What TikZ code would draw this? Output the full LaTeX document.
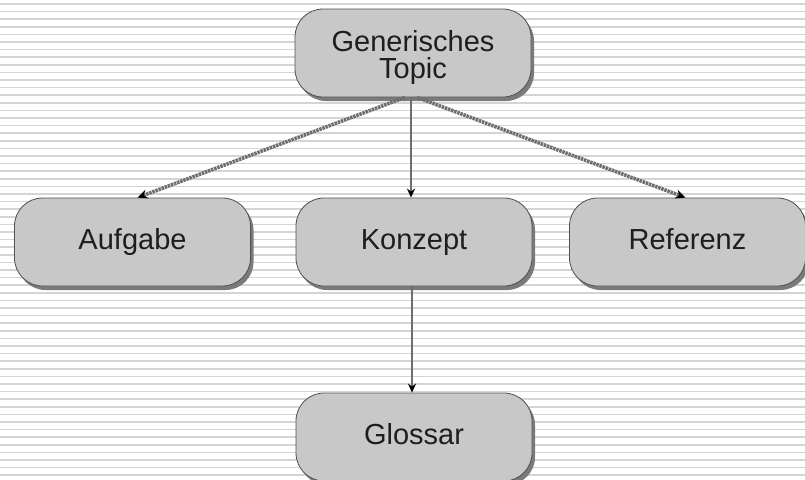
\documentclass[tikz,border=0pt]{standalone}
\usepackage{fontspec}
\setmainfont{Liberation Sans}
\usetikzlibrary{arrows.meta}
\definecolor{boxfill}{HTML}{C8C8C8}
\definecolor{boxline}{HTML}{505050}
\definecolor{shadowc}{HTML}{7A7A7A}
\definecolor{stripe}{HTML}{D4D4D4}
\definecolor{linkc}{HTML}{6E6E6E}
\definecolor{txt}{HTML}{1E1E1E}
\tikzset{
  topicbox/.style={draw=boxline, line width=0.8pt, fill=boxfill, rounded corners=28pt,
    minimum width=236pt, minimum height=88pt, inner sep=0pt, align=center,
    text=txt, font=\fontsize{29}{27}\selectfont},
  onelinebox/.style={topicbox, text height=20pt, text depth=5pt},
  boxshadow/.style={fill=shadowc, rounded corners=28pt, draw=none},
  link/.style={draw=linkc, line width=2.6pt, -{Stealth[black,length=9pt,width=8pt]}},
  diag/.style={draw=linkc, line width=3.6pt, dash pattern=on 2.5pt off 0.8pt, -{Stealth[black,length=10pt,width=9pt]}}
}
\begin{document}
\begin{tikzpicture}[x=1pt,y=-1pt]
\useasboundingbox (0,0) rectangle (805,479);
\clip (0,0) rectangle (805,479);
\fill[white] (0,0) rectangle (805,479);
\foreach \i in {0,...,63} {
  \draw[stripe, line width=1.6pt] (0,{4+7.6*\i}) -- (805,{4+7.6*\i});
}
% shadows
\foreach \cx/\cy in {413/53, 132.5/242, 414/242, 687.5/242, 414/437} {
  \fill[boxshadow] ({\cx-118+3},{\cy-44+4}) rectangle ({\cx+118+3},{\cy+44+4});
}
\node[topicbox] (top) at (413,53) {\rule{0pt}{31pt}Generisches\\Topic};
\node[onelinebox] (aufg) at (132.5,242) {Aufgabe};
\node[onelinebox] (konz) at (414,242) {Konzept};
\node[onelinebox] (ref) at (687.5,242) {Referenz};
\node[onelinebox] (glos) at (414,437) {Glossar};
\draw[diag] ([xshift=-8pt]top.south) -- ([xshift=5pt]aufg.north);
\draw[diag] ([xshift=4pt]top.south) -- ([xshift=-2pt]ref.north);
\draw[link] ([xshift=-2pt]top.south) -- ([xshift=-3pt]konz.north);
\draw[link] ([xshift=-2pt]konz.south) -- ([xshift=-2pt]glos.north);
\end{tikzpicture}
\end{document}
